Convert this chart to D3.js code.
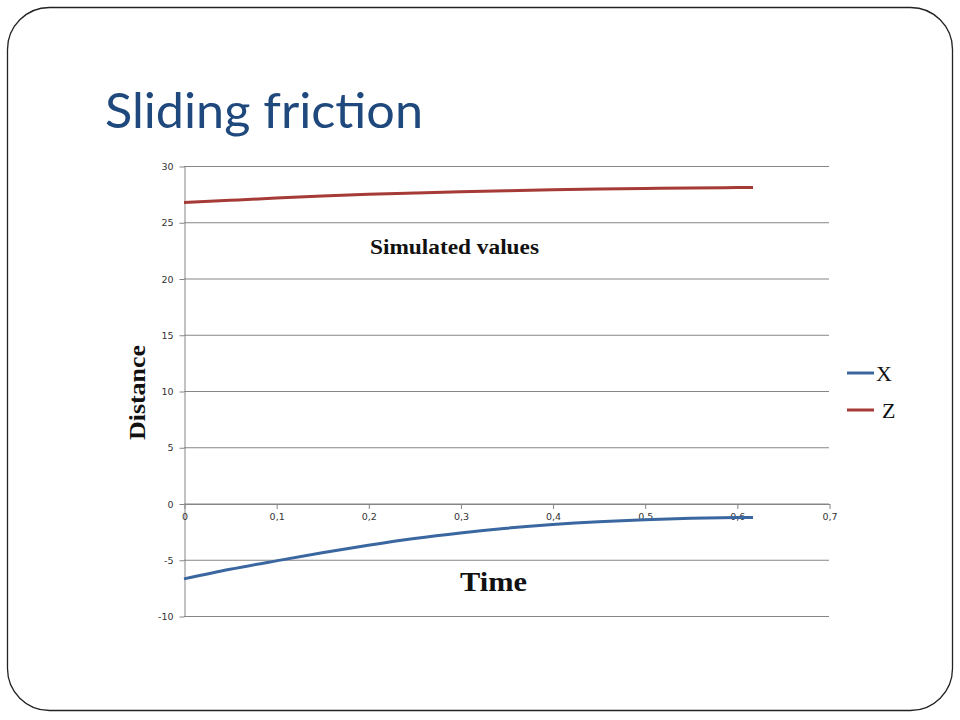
<!DOCTYPE html>
<html><head><meta charset="utf-8">
<script src="https://cdn.jsdelivr.net/npm/d3@7"></script>
<style>body{margin:0;background:#fff}svg{display:block}</style>
</head><body>
<script>
const times = [0,0.05,0.1,0.15,0.2,0.25,0.3,0.35,0.4,0.45,0.5,0.55,0.6,0.6175];
const xValues = [-6.7,-5.85,-5.1,-4.38,-3.72,-3.12,-2.62,-2.2,-1.87,-1.62,-1.44,-1.32,-1.25,-1.24];
const zValues = [26.75,26.95,27.15,27.33,27.48,27.6,27.71,27.8,27.88,27.95,28.01,28.05,28.08,28.09];
const xTicks = [0,0.1,0.2,0.3,0.4,0.5,0.6,0.7];
const yTicks = [-10,-5,0,5,10,15,20,25,30];
const seriesNames = ["X","Z"];
const colors = ["#3a67a0","#a53a37"];

const W=960,H=720;
const svg=d3.select("body").append("svg").attr("width",W).attr("height",H);
svg.append("rect").attr("x",7.5).attr("y",7.5).attr("width",945).attr("height",703)
  .attr("rx",42).attr("ry",42).attr("fill","#fff").attr("stroke","#222").attr("stroke-width",1.3);

svg.append("text").attr("x",105).attr("y",128).text("Sliding friction")
  .attr("font-family","Lato, 'Open Sans', sans-serif").attr("font-size",49)
  .attr("textLength",318).attr("lengthAdjust","spacingAndGlyphs").attr("fill","#1f497d");

const x=d3.scaleLinear().domain([0,0.7]).range([184,829]);
const y=d3.scaleLinear().domain([-10,30]).range([616,166]);

// gridlines
svg.append("g").selectAll("line").data(yTicks).join("line")
  .attr("x1",184).attr("x2",829).attr("y1",d=>y(d)+0.5).attr("y2",d=>y(d)+0.5)
  .attr("stroke","#868686").attr("stroke-width",1);

const tickFont="Tahoma, 'DejaVu Sans', sans-serif";
// y axis
const yAxis=svg.append("g").attr("transform","translate(184.5,0.5)")
  .call(d3.axisLeft(y).tickValues(yTicks).tickSize(5).tickSizeOuter(0).tickFormat(d=>String(d)));
yAxis.select(".domain").attr("stroke","#868686");
yAxis.selectAll(".tick line").attr("stroke","#868686");
yAxis.selectAll("text").attr("font-family",tickFont).attr("font-size",9.5).attr("fill","#333").attr("x",-11);

// x axis at y=0
const fmt=d=>d===0?"0":d3.format(".1f")(d).replace(".",",");
const xAxis=svg.append("g").attr("transform",`translate(0.5,${y(0)+0.5})`)
  .call(d3.axisBottom(x).tickValues(xTicks).tickSize(5).tickSizeOuter(0).tickFormat(fmt));
xAxis.select(".domain").attr("stroke","#868686");
xAxis.selectAll(".tick line").attr("stroke","#868686");
xAxis.selectAll("text").attr("font-family",tickFont).attr("font-size",9.5).attr("fill","#333").attr("y",9).attr("dy","0.71em");

const line=d3.line().x(d=>x(d[0])).y(d=>y(d[1])).curve(d3.curveMonotoneX);
[xValues,zValues].forEach((vals,i)=>{
  svg.append("path").datum(times.map((t,j)=>[t,vals[j]]))
    .attr("d",line).attr("fill","none").attr("stroke",colors[i]).attr("stroke-width",3).attr("stroke-linecap","butt");
});

const serif="'Liberation Serif','DejaVu Serif',serif";
svg.append("text").attr("x",370).attr("y",254).text("Simulated values")
  .attr("textLength",169).attr("lengthAdjust","spacingAndGlyphs")
  .attr("font-family",serif).attr("font-weight","bold").attr("font-size",20).attr("fill","#111");
svg.append("text").attr("x",460).attr("y",591).text("Time")
  .attr("textLength",67).attr("lengthAdjust","spacingAndGlyphs")
  .attr("font-family",serif).attr("font-weight","bold").attr("font-size",28).attr("fill","#111");
svg.append("text").attr("transform","translate(145,440) rotate(-90)").text("Distance")
  .attr("textLength",95).attr("lengthAdjust","spacingAndGlyphs")
  .attr("font-family",serif).attr("font-weight","bold").attr("font-size",23).attr("fill","#111");

// legend
const ly=[373,410], lx=[876,882];
seriesNames.forEach((n,i)=>{
  svg.append("line").attr("x1",847).attr("x2",874).attr("y1",ly[i]).attr("y2",ly[i]).attr("stroke",colors[i]).attr("stroke-width",3);
  svg.append("text").attr("x",lx[i]).attr("y",ly[i]+8).text(n).attr("font-family",serif).attr("font-size",22).attr("fill","#111");
});
</script>
</body></html>
